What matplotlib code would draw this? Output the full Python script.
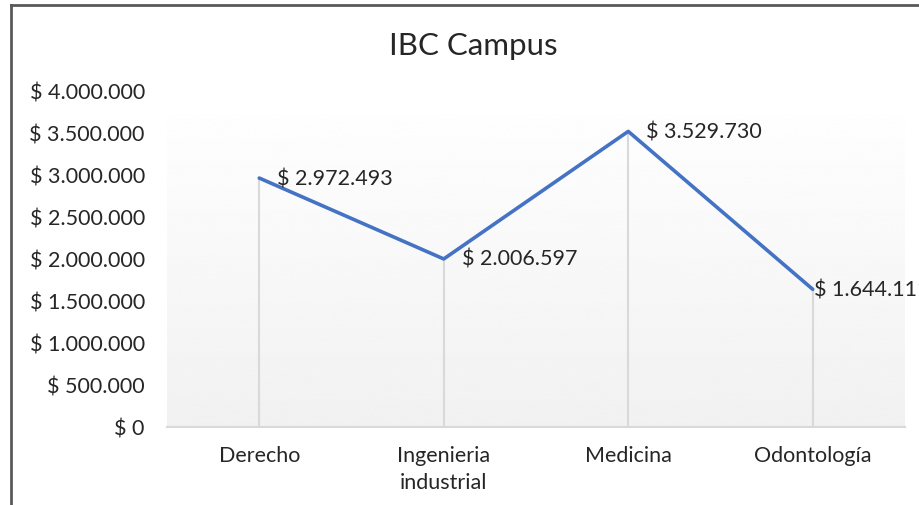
import numpy as np
import matplotlib
matplotlib.use('Agg')
import matplotlib.pyplot as plt
from matplotlib.lines import Line2D
from matplotlib.ticker import FuncFormatter

plt.rcParams['font.family'] = ['Lato', 'DejaVu Sans']

categories = ['Derecho', 'Ingenieria\nindustrial', 'Medicina', 'Odontología']
values = [2972493, 2006597, 3529730, 1644111]
y_ticks = [0, 500000, 1000000, 1500000, 2000000, 2500000, 3000000, 3500000, 4000000]
title = 'IBC Campus'

LINE_COLOR = '#4472C4'
TEXT_COLOR = '#262626'
GRID_COLOR = '#d9d9d9'


def money(v):
  return '$ ' + f'{v:,.0f}'.replace(',', '.')


fig = plt.figure(figsize=(9.2, 5.05), dpi=100)
ax = fig.add_axes([167 / 920, 1 - 427 / 505, (905 - 167) / 920, (427 - 92) / 505])

x = np.arange(len(categories))
ax.set_xlim(-0.5, len(categories) - 0.5)
ax.set_ylim(0, 4000000)

# gradient plot area, white at top to light gray at bottom
grad = np.linspace(1.0, 0.945, 256).reshape(-1, 1)
ax.imshow(grad, extent=[0, 1, 0, 1], transform=ax.transAxes, cmap='gray',
          vmin=0, vmax=1, aspect='auto', zorder=0, interpolation='bicubic')

# drop lines
ax.vlines(x, 0, values, color=GRID_COLOR, lw=1.5, zorder=1)
ax.plot(x, values, color=LINE_COLOR, lw=2.6, solid_capstyle='round', zorder=3)

# the last label sits right on its point (Excel pushed it against the edge)
label_dx = [18, 18, 18, 1]
for xi, v, dx in zip(x, values, label_dx):
  ax.annotate(money(v), (xi, v), xytext=(dx, -1), textcoords='offset pixels',
              ha='left', va='center', fontsize=15.5, color=TEXT_COLOR,
              annotation_clip=False, zorder=4)

ax.set_xticks(x)
ax.set_xticklabels(categories, fontsize=15.5, color=TEXT_COLOR, linespacing=1.4)
ax.set_yticks(y_ticks)
ax.yaxis.set_major_formatter(FuncFormatter(lambda v, p: money(v)))
ax.tick_params(axis='y', length=0, pad=16, labelsize=15.5, labelcolor=TEXT_COLOR)
ax.tick_params(axis='x', length=0, pad=14)

for side in ['top', 'right', 'left']:
  ax.spines[side].set_visible(False)
ax.spines['bottom'].set_color(GRID_COLOR)
ax.spines['bottom'].set_linewidth(1.5)
ax.spines['bottom'].set_zorder(2)

fig.text(473 / 920, 1 - 46 / 505, title, ha='center', va='center',
         fontsize=22.5, color=TEXT_COLOR)

# chart border (only top and left visible in the crop)
fig.add_artist(Line2D([11 / 920, 11 / 920], [0, 1 - 5 / 505], color='#595959', lw=2))
fig.add_artist(Line2D([11 / 920, 1], [1 - 5 / 505, 1 - 5 / 505], color='#595959', lw=2))

fig.savefig('out.png', dpi=100, facecolor='white')
